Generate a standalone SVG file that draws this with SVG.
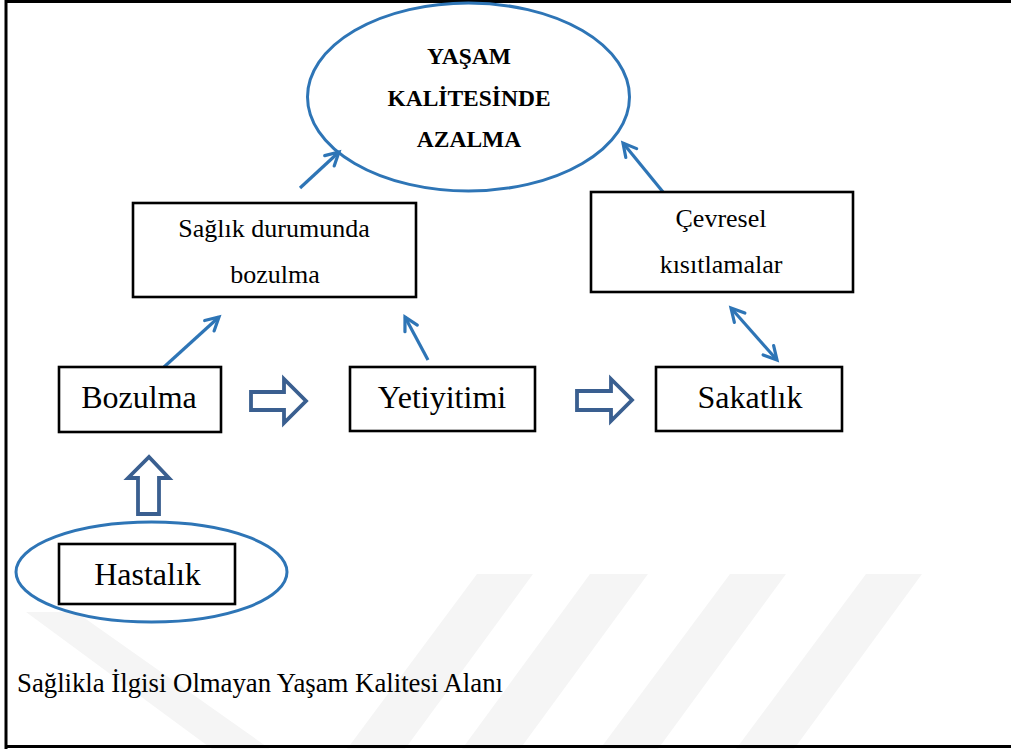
<svg xmlns="http://www.w3.org/2000/svg" width="1011" height="749" viewBox="0 0 1011 749">
  <style>
    .box { fill: #ffffff; stroke: #000000; stroke-width: 2.6; }
    .oval { fill: none; stroke: #2e75b6; stroke-width: 3; }
    .lbl { font-family: "Liberation Serif", "Times New Roman", serif; fill: #000000; text-anchor: middle; }
    .note { font-family: "Liberation Serif", "Times New Roman", serif; fill: #000000; text-anchor: start; font-size: 27px; }
    .big { font-size: 32px; }
    .mid { font-size: 26px; }
    .title { font-size: 23.5px; font-weight: bold; }
    .link { fill: none; stroke: #2e75b6; stroke-width: 3.2; }
    .block { fill: #ffffff; stroke: #3a5f90; stroke-width: 3.8; stroke-linejoin: miter; }
    .wm { fill: #f5f5f5; }
  </style>
  <defs>
    <marker id="open" markerUnits="userSpaceOnUse" markerWidth="20" markerHeight="20" refX="15" refY="9" orient="auto-start-reverse">
      <path d="M2,2 L15,9 L2,16" fill="none" stroke="#2e75b6" stroke-width="3.2" stroke-linecap="round"/>
    </marker>
  </defs>

  <rect width="1011" height="749" fill="#ffffff"/>

  <!-- faint background watermark bands -->
  <g id="watermark">
    <polygon class="wm" points="26,612 76,612 270,749 212,749"/>
    <polygon class="wm" points="477,574 533,574 405,749 347,749"/>
    <polygon class="wm" points="590,574 648,574 520,749 462,749"/>
    <polygon class="wm" points="730,574 786,574 658,749 600,749"/>
    <polygon class="wm" points="866,574 922,574 794,749 736,749"/>
  </g>

  <!-- frame: left, top and bottom rules -->
  <path d="M6,749 V1.5 H1011 M6,746.5 H1011" fill="none" stroke="#000000" stroke-width="3"/>

  <g id="connectors">
    <line class="link" x1="300" y1="188" x2="339" y2="152" marker-end="url(#open)"/>
    <line class="link" x1="663" y1="192" x2="623" y2="143" marker-end="url(#open)"/>
    <line class="link" x1="164" y1="367" x2="219" y2="317" marker-end="url(#open)"/>
    <line class="link" x1="428" y1="360" x2="405" y2="317" marker-end="url(#open)"/>
    <line class="link" x1="731" y1="308" x2="777" y2="360" marker-start="url(#open)" marker-end="url(#open)"/>
    <!-- hollow block arrows -->
    <polygon class="block" points="251,392 284,392 284,379 306,401 284,423 284,410 251,410"/>
    <polygon class="block" points="577,391 611,391 611,379 632,400 611,421 611,410 577,410"/>
    <polygon class="block" points="138,514 138,478 128,478 149,457 169,478 159,478 159,514"/>
  </g>

  <g id="node-yasam">
    <ellipse class="oval" cx="468.5" cy="97" rx="161" ry="94"/>
    <text class="lbl title" x="469" y="64">YAŞAM</text>
    <text class="lbl title" x="469" y="106">KALİTESİNDE</text>
    <text class="lbl title" x="469" y="147">AZALMA</text>
  </g>

  <g id="node-saglik">
    <rect class="box" x="133" y="203" width="283" height="94"/>
    <text class="lbl mid" x="274" y="237">Sağlık durumunda</text>
    <text class="lbl mid" x="275" y="283">bozulma</text>
  </g>

  <g id="node-cevresel">
    <rect class="box" x="591" y="192" width="262" height="100"/>
    <text class="lbl mid" x="721" y="227">Çevresel</text>
    <text class="lbl mid" x="721" y="273">kısıtlamalar</text>
  </g>

  <g id="node-bozulma">
    <rect class="box" x="59" y="367" width="162" height="65"/>
    <text class="lbl big" x="139" y="408">Bozulma</text>
  </g>

  <g id="node-yetiyitimi">
    <rect class="box" x="350" y="367" width="185" height="64"/>
    <text class="lbl big" x="442" y="408">Yetiyitimi</text>
  </g>

  <g id="node-sakatlik">
    <rect class="box" x="656" y="367" width="186" height="64"/>
    <text class="lbl big" x="750" y="408">Sakatlık</text>
  </g>

  <g id="node-hastalik">
    <ellipse class="oval" cx="151.5" cy="572" rx="135.5" ry="50"/>
    <rect class="box" x="59" y="544" width="176" height="60"/>
    <text class="lbl big" x="147.5" y="585">Hastalık</text>
  </g>

  <text class="note" x="17" y="692" textLength="486" lengthAdjust="spacingAndGlyphs">Sağlikla İlgisi Olmayan Yaşam Kalitesi Alanı</text>
</svg>
